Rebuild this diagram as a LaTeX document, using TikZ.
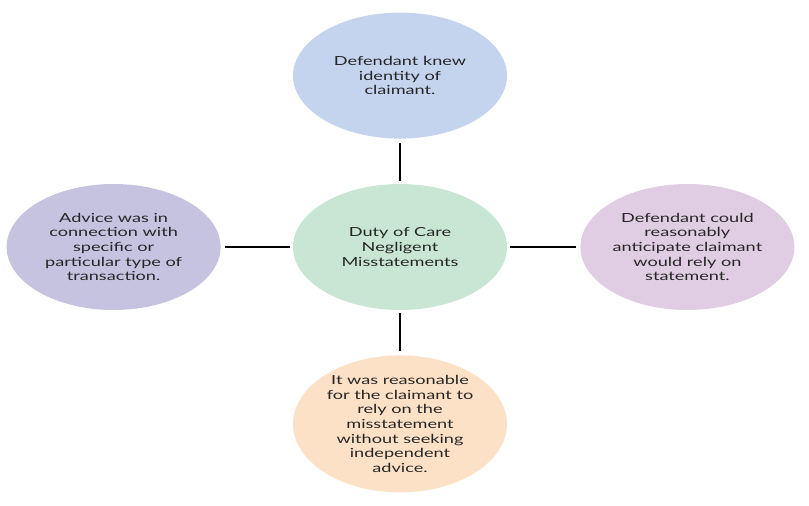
\documentclass[tikz,border=0pt]{standalone}
\usepackage{fontspec}
\setmainfont{Lato}[FakeStretch=1.45]
\usetikzlibrary{shapes.geometric,positioning}
\definecolor{knewblue}{HTML}{C5D4EE}
\definecolor{dutygreen}{HTML}{C9E6D4}
\definecolor{advicelilac}{HTML}{C5C3E0}
\definecolor{relypink}{HTML}{E0CCE3}
\definecolor{reasonpeach}{HTML}{FDE1C6}

\begin{document}
\begin{tikzpicture}[
        bubble/.style={ellipse, draw=none, align=center, inner sep=0pt,
            minimum width=214pt, minimum height=126pt,
            font=\fontsize{12.5}{14.6}\selectfont, text=black!85},
        link/.style={black, line width=1.8pt, shorten <=3pt, shorten >=4pt}
    ]

    %frame
    \useasboundingbox (-400pt,247pt) rectangle (409pt,-259pt);

    %nodes
    \node[bubble, fill=dutygreen] (duty) at (0,0) {Duty of Care\\ Negligent\\ Misstatements};
    \node[bubble, fill=knewblue, above=45pt of duty] (knew) {Defendant knew\\ identity of\\ claimant.};
    \node[bubble, fill=reasonpeach, below=45pt of duty] (reason) {It was reasonable\\ for the claimant to\\ rely on the\\ misstatement\\ without seeking\\ independent\\ advice.};
    \node[bubble, fill=advicelilac, left=72pt of duty] (advice) {Advice was in\\ connection with\\ specific or\\ particular type of\\ transaction.};
    \node[bubble, fill=relypink, right=73pt of duty] (rely) {Defendant could\\ reasonably\\ anticipate claimant\\ would rely on\\ statement.};

    %links
    \draw[link] (duty) -- (knew);
    \draw[link] (duty) -- (reason);
    \draw[link] (duty) -- (advice);
    \draw[link] (duty) -- (rely);

\end{tikzpicture}
\end{document}
